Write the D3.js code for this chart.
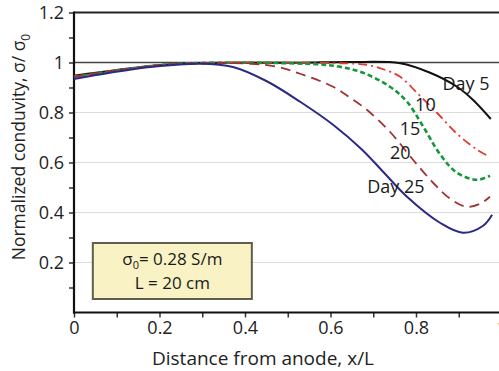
<!DOCTYPE html>
<html>
<head>
<meta charset="utf-8">
<script src="https://cdn.jsdelivr.net/npm/d3@7"></script>
<style>
  body { margin: 0; background: #fff; }
  svg { display: block; font-family: "Open Sans", sans-serif; }
</style>
</head>
<body>
<svg width="499" height="371"></svg>
<script>
/* Data */

var day5 = [[0, 0.947], [0.185, 0.987], [0.295, 0.998], [0.529, 0.999], [0.646, 1.002],
            [0.763, 0.997], [0.833, 0.959], [0.896, 0.903], [0.933, 0.851], [0.975, 0.774]];
var day10 = [[0, 0.943], [0.185, 0.987], [0.295, 0.998], [0.622, 0.997], [0.685, 0.991],
             [0.727, 0.971], [0.763, 0.943], [0.802, 0.879], [0.849, 0.799], [0.896, 0.715],
             [0.943, 0.651], [0.973, 0.622]];
var day15 = [[0, 0.943], [0.185, 0.987], [0.295, 0.998], [0.568, 0.993], [0.622, 0.983],
             [0.676, 0.959], [0.739, 0.903], [0.779, 0.843], [0.817, 0.743], [0.857, 0.631],
             [0.896, 0.559], [0.943, 0.531], [0.973, 0.547]];
var day20 = [[0, 0.943], [0.185, 0.987], [0.295, 0.997], [0.412, 0.995], [0.475, 0.983],
             [0.529, 0.955], [0.606, 0.903], [0.646, 0.859], [0.685, 0.811], [0.739, 0.723],
             [0.793, 0.611], [0.840, 0.519], [0.880, 0.455], [0.919, 0.423], [0.950, 0.435],
             [0.973, 0.463]];
var day25 = [[0, 0.934], [0.084, 0.959], [0.185, 0.983], [0.295, 0.995], [0.372, 0.982],
             [0.451, 0.925], [0.529, 0.843], [0.606, 0.751], [0.674, 0.651], [0.723, 0.563],
             [0.779, 0.463], [0.856, 0.359], [0.910, 0.319], [0.957, 0.347], [0.978, 0.391]];

var xTicks = [0, 0.2, 0.4, 0.6, 0.8, 1];
var yTicks = [0.2, 0.4, 0.6, 0.8, 1, 1.2];
var curveLabels = ["Day 5", "10", "15", "20", "Day 25"];
// label anchor in data units
var labelAt = [[0.917, 0.891], [0.822, 0.807], [0.786, 0.711], [0.763, 0.615], [0.753, 0.479]];

/* Setup */

var svg = d3.select("svg");
var w = +svg.attr("width"),
    h = +svg.attr("height");

var x = d3.scaleLinear().domain([0, 1]).range([74, 501.5]);
var y = d3.scaleLinear().domain([0, 1.2]).range([312.5, 12.5]);

var styles = [
  {color: "#111111", dash: null, width: 2},
  {color: "#e23a33", dash: "9,4,2,4", width: 1.8},
  {color: "#16963a", dash: "5,3", width: 2.6},
  {color: "#a23232", dash: "10,6", width: 1.8},
  {color: "#2a2a86", dash: null, width: 2}
];

/* Grid */

svg.selectAll(".grid")
  .data([0.2, 0.4, 0.6, 0.8])
  .enter().append("line")
  .attr("x1", x(0)).attr("x2", w)
  .attr("y1", (d) => y(d)).attr("y2", (d) => y(d))
  .attr("stroke", "#dcdcdc").attr("stroke-width", 1);

svg.append("line")
  .attr("x1", x(0)).attr("x2", w)
  .attr("y1", y(1)).attr("y2", y(1))
  .attr("stroke", "#444").attr("stroke-width", 1.5);

svg.append("line")
  .attr("x1", x(0)).attr("x2", w)
  .attr("y1", y(1.2)).attr("y2", y(1.2))
  .attr("stroke", "#222").attr("stroke-width", 2.2);

/* Axes */

var fmt = (ticks) => (d) => ticks.some((t) => Math.abs(t - d) < 1e-6) ? d3.format("")(+d.toFixed(1)) : "";

var gx = svg.append("g")
  .attr("transform", "translate(0," + y(0) + ")")
  .call(d3.axisBottom(x).tickValues(d3.range(0, 1.01, 0.1)).tickSize(5).tickFormat(fmt(xTicks)));
gx.select(".domain").remove();
gx.append("line").attr("x1", x(0) - 1).attr("x2", w).attr("stroke", "#111").attr("stroke-width", 2.2);
gx.selectAll(".tick line").attr("stroke", "#333").attr("stroke-width", 1.5);
gx.selectAll(".tick text")
  .attr("dy", 0).attr("y", 21)
  .attr("font-size", 18).attr("fill", "#222")
  .attr("font-family", "Open Sans, sans-serif");

var gy = svg.append("g")
  .attr("transform", "translate(" + x(0) + ",0)")
  .call(d3.axisLeft(y).tickValues(d3.range(0.1, 1.21, 0.1)).tickSize(5).tickFormat(fmt(yTicks)));
gy.select(".domain").remove();
gy.append("line").attr("y1", y(1.2) - 1).attr("y2", y(0) + 1).attr("stroke", "#111").attr("stroke-width", 2.2);
gy.selectAll(".tick line").attr("stroke", "#333").attr("stroke-width", 1.5);
gy.selectAll(".tick text")
  .attr("x", -10).attr("dy", "0.36em")
  .attr("font-size", 18).attr("fill", "#222")
  .attr("font-family", "Open Sans, sans-serif");

/* Curves */

var line = d3.line()
  .x((d) => x(d[0]))
  .y((d) => y(d[1]))
  .curve(d3.curveCatmullRom.alpha(0.5));

var series = [day5, day10, day15, day20, day25];

svg.selectAll(".curve")
  .data(series)
  .enter().append("path")
  .classed("curve", true)
  .attr("d", line)
  .attr("fill", "none")
  .attr("stroke", (d, i) => styles[i].color)
  .attr("stroke-width", (d, i) => styles[i].width)
  .attr("stroke-dasharray", (d, i) => styles[i].dash);

svg.selectAll(".clabel")
  .data(curveLabels)
  .enter().append("text")
  .classed("clabel", true)
  .attr("x", (d, i) => x(labelAt[i][0]))
  .attr("y", (d, i) => y(labelAt[i][1]))
  .attr("text-anchor", "middle")
  .attr("font-size", 18)
  .attr("fill", "#1a1a1a")
  .text((d) => d);

/* Info box */

var box = svg.append("g");
box.append("rect")
  .attr("x", x(0.044)).attr("y", y(0.278))
  .attr("width", x(0.416) - x(0.044))
  .attr("height", y(0.054) - y(0.278))
  .attr("fill", "#f8f2c4")
  .attr("stroke", "#5e5e4e")
  .attr("stroke-width", 2);

var t1 = box.append("text")
  .attr("x", x(0.23)).attr("y", y(0.192))
  .attr("text-anchor", "middle")
  .attr("font-size", 17).attr("fill", "#1a1a1a");
t1.append("tspan").text("σ");
t1.append("tspan").attr("font-size", 11).attr("dy", 4).text("0");
t1.append("tspan").attr("dy", -4).text("= 0.28 S/m");

box.append("text")
  .attr("x", x(0.23)).attr("y", y(0.094))
  .attr("text-anchor", "middle")
  .attr("font-size", 17).attr("fill", "#1a1a1a")
  .text("L = 20 cm");

/* Axis titles */

svg.append("text")
  .attr("x", 263).attr("y", 365)
  .attr("text-anchor", "middle")
  .attr("font-size", 19).attr("fill", "#222")
  .text("Distance from anode, x/L");

var yt = svg.append("text")
  .attr("transform", "translate(25," + 147 + ") rotate(-90)")
  .attr("text-anchor", "middle")
  .attr("font-size", 17.5).attr("fill", "#222");
yt.append("tspan").text("Normalized conduvity, σ/ σ");
yt.append("tspan").attr("font-size", 12).attr("dy", 5).text("0");
</script>
</body>
</html>
